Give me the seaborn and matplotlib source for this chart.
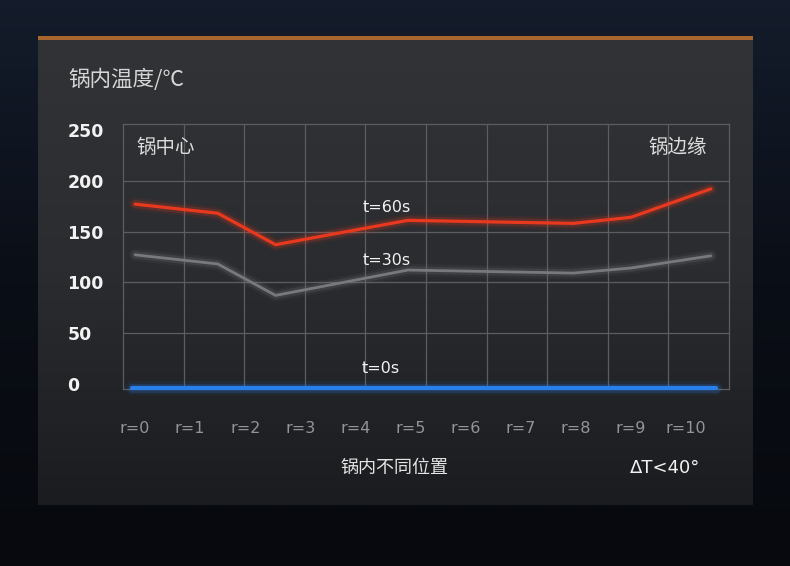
import numpy as np
import pandas as pd
import matplotlib
matplotlib.use("Agg")
import matplotlib.pyplot as plt
import matplotlib.patheffects as pe
from matplotlib.patches import Rectangle
import seaborn as sns

# positions along the pan radius (r units) and temperatures
r_pos = [0, 1.5, 2.55, 4.95, 7.95, 9.0, 10.45]
temp_60s = [177, 168, 137, 161, 158, 164, 192]
temp_30s = [127, 118, 87, 112, 109, 114, 126]
r_edge = [-0.05, 10.55]
temp_0s = [-4, -4]

x_labels = [f"r={i}" for i in range(11)]
y_ticks = [0, 50, 100, 150, 200, 250]
series_names = ["t=60s", "t=30s", "t=0s"]
series_colors = {"t=60s": "#e8391f", "t=30s": "#77797c", "t=0s": "#2a80ea"}
series_lw = {"t=60s": 2.3, "t=30s": 2.0, "t=0s": 3.0}
label_pos = {"t=60s": (4.57, 174), "t=30s": (4.57, 121.5), "t=0s": (4.45, 15)}

df = pd.concat([
    pd.DataFrame({"r": r_pos, "temp": temp_60s, "series": "t=60s"}),
    pd.DataFrame({"r": r_pos, "temp": temp_30s, "series": "t=30s"}),
    pd.DataFrame({"r": r_edge, "temp": temp_0s, "series": "t=0s"}),
], ignore_index=True)

sns.set_theme(style="dark", rc={"axes.facecolor": "none"})
plt.rcParams["font.family"] = ["DejaVu Sans", "Noto Sans CJK SC"]
cjk = ["Noto Sans CJK SC", "DejaVu Sans"]

W, H = 790, 566
fig = plt.figure(figsize=(W / 100, H / 100), dpi=100)

# background: dark navy outside, grey panel with orange top rule
bg = fig.add_axes([0, 0, 1, 1])
bg.axis("off")
outer = np.linspace(0, 1, 256).reshape(-1, 1)
bg.imshow(outer, extent=[0, 1, 0, 1], aspect="auto",
          cmap=matplotlib.colors.LinearSegmentedColormap.from_list(
              "o", ["#141c2b", "#0a0e16", "#07090e"]), origin="upper")
panel = np.linspace(0, 1, 256).reshape(-1, 1)
px0, px1, py0, py1 = 38 / W, 753 / W, 1 - 505 / H, 1 - 36 / H
bg.imshow(panel, extent=[px0, px1, py0, py1], aspect="auto",
          cmap=matplotlib.colors.LinearSegmentedColormap.from_list(
              "p", ["#313336", "#2a2c2f", "#1b1c1f"]), origin="upper")
bg.add_patch(Rectangle((px0, 1 - 40 / H), px1 - px0, 4 / H, color="#a8652d", lw=0))
bg.set_xlim(0, 1)
bg.set_ylim(0, 1)

ax = fig.add_axes([123 / W, 1 - 388.7 / H, 606 / W, 264.7 / H])
ax.set_facecolor("none")

sns.lineplot(data=df, x="r", y="temp", hue="series", hue_order=series_names,
             palette=series_colors, sort=False, legend=False, ax=ax,
             estimator=None)

for line, name in zip(ax.lines, series_names):
    c = series_colors[name]
    lw = series_lw[name]
    line.set_linewidth(lw)
    line.set_clip_on(False)
    line.set_path_effects([
        pe.Stroke(linewidth=lw + 7, foreground=c, alpha=0.08),
        pe.Stroke(linewidth=lw + 3.5, foreground=c, alpha=0.2),
        pe.Normal(),
    ])
    line.set_zorder(5)

xmin, xmax = -0.22, 10.78
ax.set_xlim(xmin, xmax)
ax.set_ylim(-5, 256)

grid_c = "#5b5d61"
ax.grid(False)
ax.set_xticks(range(11))
ax.set_xticklabels(x_labels)
ax.set_xticks(np.linspace(xmin, xmax, 11)[1:-1], minor=True)
ax.xaxis.grid(True, which="minor", color=grid_c, lw=0.9)
for v in y_ticks[1:-1]:
    ax.axhline(v, color=grid_c, lw=0.9, zorder=1)

ax.set_yticks(y_ticks)
ax.tick_params(axis="x", which="both", length=0, pad=23, labelsize=11.5,
               labelcolor="#939496")
ax.tick_params(axis="y", length=0, pad=40, labelsize=12.5, labelcolor="#f2f2f2")
for lab in ax.get_yticklabels():
    lab.set_ha("left")
    lab.set_fontweight("bold")

for s in ax.spines.values():
    s.set_visible(True)
    s.set_color(grid_c)
    s.set_linewidth(0.9)

ax.set_xlabel("")
ax.set_ylabel("")

for name in series_names:
    x, y = label_pos[name]
    ax.text(x, y, name, ha="center", va="center", fontsize=11.5,
            color="#f2f2f2", zorder=6)

ax.text(0.023, 0.913, "锅中心", transform=ax.transAxes, ha="left", va="center",
        fontsize=14, color="#dcdcdc", family=cjk)
ax.text(0.964, 0.913, "锅边缘", transform=ax.transAxes, ha="right", va="center",
        fontsize=14, color="#dcdcdc", family=cjk)

fig.text(68 / W, 1 - 80 / H, "锅内温度/℃", ha="left", va="center",
         fontsize=15.5, color="#d6d6d6", family=cjk)
fig.text(395 / W, 1 - 468 / H, "锅内不同位置", ha="center", va="center",
         fontsize=13, color="#e6e6e6", family=cjk)
fig.text(665 / W, 1 - 468 / H, "ΔT<40°", ha="center", va="center",
         fontsize=13, color="#f2f2f2")

fig.savefig("out.png", dpi=100, facecolor=fig.get_facecolor())
